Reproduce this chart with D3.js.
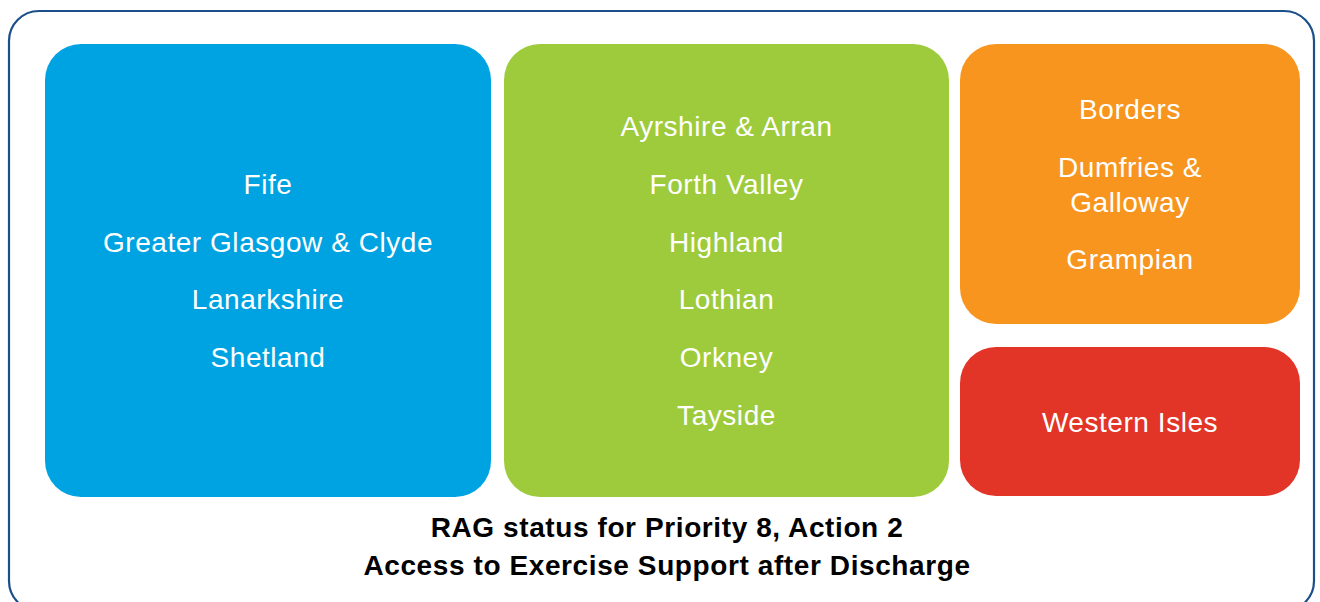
<!DOCTYPE html>
<html>
<head>
<meta charset="utf-8">
<script src="https://cdn.jsdelivr.net/npm/d3@7"></script>
<style>
  html, body { margin: 0; padding: 0; background: #ffffff; }
  svg { display: block; }
</style>
</head>
<body>
<svg id="chart" width="1320" height="602"></svg>
<script>
// ---- Data ----
const statusCategories = ["Blue", "Green", "Amber", "Red"];
const blueBoards  = ["Fife", "Greater Glasgow & Clyde", "Lanarkshire", "Shetland"];
const greenBoards = ["Ayrshire & Arran", "Forth Valley", "Highland", "Lothian", "Orkney", "Tayside"];
const amberBoards = ["Borders", "Dumfries &\nGalloway", "Grampian"];
const redBoards   = ["Western Isles"];
const titleLines  = ["RAG status for Priority 8, Action 2", "Access to Exercise Support after Discharge"];

// ---- Style ----
const colours = { Blue: "#00a3e2", Green: "#9dcb3c", Amber: "#f7951f", Red: "#e23427" };
const fontFamily = "'Liberation Sans', Arial, Helvetica, sans-serif";
const fontSize = 28;
const itemGap = 57.7;
const wrapGap = 35;

const svg = d3.select("#chart");

// Outer frame
svg.append("rect")
  .attr("x", 9).attr("y", 11)
  .attr("width", 1305).attr("height", 600)
  .attr("rx", 30).attr("ry", 30)
  .attr("fill", "none")
  .attr("stroke", "#1b4f8a")
  .attr("stroke-width", 2.2);

// Layout via scales
const colX = d3.scaleOrdinal().domain(["left", "mid", "right"]).range([45, 504, 960]);
const colW = d3.scaleOrdinal().domain(["left", "mid", "right"]).range([446, 445, 340]);
const boxTop = 44, boxBottom = 497;

const boxes = [
  { key: "Blue",  col: "left",  y0: boxTop, y1: boxBottom, items: blueBoards },
  { key: "Green", col: "mid",   y0: boxTop, y1: boxBottom, items: greenBoards },
  { key: "Amber", col: "right", y0: boxTop, y1: 324,       items: amberBoards },
  { key: "Red",   col: "right", y0: 347,    y1: 496,       items: redBoards }
];

const g = svg.selectAll("g.box").data(boxes).join("g").attr("class", "box");

g.append("rect")
  .attr("x", d => colX(d.col))
  .attr("y", d => d.y0)
  .attr("width", d => colW(d.col))
  .attr("height", d => d.y1 - d.y0)
  .attr("rx", 36).attr("ry", 36)
  .attr("fill", d => colours[d.key]);

g.each(function(d) {
  const cx = colX(d.col) + colW(d.col) / 2;
  const cy = (d.y0 + d.y1) / 2;
  const lines = [];
  let y = 0;
  d.items.forEach((item, i) => {
    const parts = item.split("\n");
    parts.forEach((p, j) => {
      if (i > 0 && j === 0) y += itemGap;
      else if (j > 0) y += wrapGap;
      lines.push({ text: p, y: y });
    });
  });
  const offset = cy - y / 2;
  d3.select(this).selectAll("text.item").data(lines).join("text")
    .attr("class", "item")
    .attr("x", cx)
    .attr("y", l => offset + l.y)
    .attr("dy", "0.36em")
    .attr("text-anchor", "middle")
    .attr("fill", "#ffffff")
    .attr("font-family", fontFamily)
    .attr("font-size", fontSize)
    .attr("letter-spacing", 0.55)
    .text(l => l.text);
});

// Title
svg.selectAll("text.title").data(titleLines).join("text")
  .attr("class", "title")
  .attr("x", 667)
  .attr("y", (d, i) => 527 + i * 38)
  .attr("dy", "0.36em")
  .attr("text-anchor", "middle")
  .attr("fill", "#000000")
  .attr("font-family", fontFamily)
  .attr("font-weight", "bold")
  .attr("font-size", 28)
  .attr("letter-spacing", 0.6)
  .text(d => d);
</script>
</body>
</html>
